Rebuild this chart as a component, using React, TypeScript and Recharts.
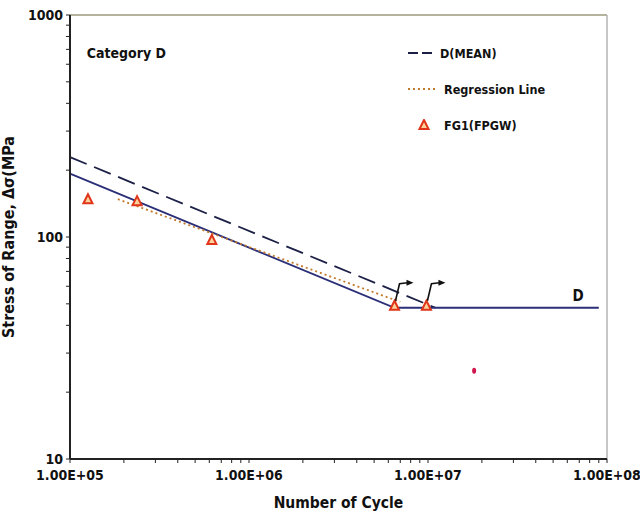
import React from 'react';
import {
  ComposedChart,
  Line,
  Scatter,
  XAxis,
  YAxis,
  ReferenceLine,
  ReferenceDot,
} from 'recharts';

const FONT = "'Liberation Sans Narrow', 'DejaVu Sans Condensed', 'Liberation Sans', Arial, sans-serif";
const NAVY = '#2b2f78';
const DARK = '#1c2046';
const ORANGE = '#c27a2c';
const RED = '#e0351a';

// Category D design curve (cycles, stress MPa)
const dCycles = [1e5, 6.5e6, 9e7];
const dStress = [193, 48, 48];

// D(MEAN) curve
const meanCycles = [1e5, 1.1e7];
const meanStress = [229, 48];

// regression line
const regCycles = [1.85e5, 7e6];
const regStress = [148, 51];

// FG1(FPGW) test results
const testCycles = [1.26e5, 2.37e5, 6.2e5, 6.5e6, 9.8e6];
const testStress = [148, 145, 97, 49, 49];
const testRunout = [false, false, false, true, true];

// stray mark in the scan
const strayCycles = [1.81e7];
const strayStress = [25];

const xMajor = [1e5, 1e6, 1e7, 1e8];
const yMajor = [10, 100, 1000];
const xTicks = [1e5, 2e5, 3e5, 4e5, 5e5, 6e5, 7e5, 8e5, 9e5, 1e6, 2e6, 3e6, 4e6, 5e6, 6e6, 7e6, 8e6, 9e6, 1e7, 2e7, 3e7, 4e7, 5e7, 6e7, 7e7, 8e7, 9e7, 1e8];
const yTicks = [10, 20, 30, 40, 50, 60, 70, 80, 90, 100, 200, 300, 400, 500, 600, 700, 800, 900, 1000];

const toRows = (ns: number[], ss: number[]) => ns.map((n, i) => ({ n, s: ss[i] }));
const dData = toRows(dCycles, dStress);
const meanData = toRows(meanCycles, meanStress);
const regData = toRows(regCycles, regStress);
const testData = testCycles.map((n, i) => ({ n, s: testStress[i], runout: testRunout[i] }));
const strayData = toRows(strayCycles, strayStress);

const fmtX = (v: number) => (xMajor.includes(v) ? v.toExponential(2).toUpperCase().replace('E+', 'E+0') : '');
const fmtY = (v: number) => (yMajor.includes(v) ? String(v) : '');

function Tri({ cx, cy, payload }: any) {
  if (cx == null || cy == null) return null;
  return (
    <g>
      <polygon
        points={`${cx},${cy - 5} ${cx - 4.5},${cy + 4} ${cx + 4.5},${cy + 4}`}
        fill="#fbd29a"
        stroke={RED}
        strokeWidth={2}
      />
      {payload && payload.runout ? (
        <g>
          <polyline points={`${cx + 1},${cy - 5} ${cx + 5},${cy - 22} ${cx + 13},${cy - 23}`} fill="none" stroke="#111" strokeWidth={1.6} />
          <polygon points={`${cx + 12},${cy - 26} ${cx + 19},${cy - 23} ${cx + 12},${cy - 20}`} fill="#111" />
        </g>
      ) : null}
    </g>
  );
}

function Stray({ cx, cy }: any) {
  if (cx == null || cy == null) return null;
  return <ellipse cx={cx} cy={cy} rx={2} ry={3} fill="#d0164c" />;
}

function LegendBox() {
  const row: React.CSSProperties = { display: 'flex', alignItems: 'center', height: 36 };
  const txt: React.CSSProperties = { fontFamily: FONT, fontWeight: 700, fontSize: 12.5, color: '#111' };
  return (
    <div style={{ position: 'absolute', left: 406, top: 35 }}>
      <div style={row}>
        <svg width={34} height={10}>
          <line x1={2} y1={5} x2={30} y2={5} stroke={DARK} strokeWidth={1.8} strokeDasharray="10 4" />
        </svg>
        <span style={txt}>D(MEAN)</span>
      </div>
      <div style={row}>
        <svg width={38} height={10}>
          <line x1={2} y1={5} x2={32} y2={5} stroke={ORANGE} strokeWidth={1.8} strokeDasharray="2 3" />
        </svg>
        <span style={txt}>Regression Line</span>
      </div>
      <div style={row}>
        <svg width={38} height={12}>
          <polygon points="18,1 13.5,10 22.5,10" fill="#fbd29a" stroke={RED} strokeWidth={2} />
        </svg>
        <span style={txt}>FG1(FPGW)</span>
      </div>
    </div>
  );
}

const tickStyle = { fontFamily: FONT, fontWeight: 700, fontSize: 14, fill: '#111' };

export default function App() {
  return (
    <div style={{ position: 'absolute', left: 0, top: 0, width: 640, height: 512, background: '#fff' }}>
      <ComposedChart width={640} height={512} margin={{ top: 15, right: 33, bottom: 0, left: 0 }}>
        <XAxis
          dataKey="n"
          type="number"
          scale="log"
          domain={[1e5, 1e8]}
          ticks={xTicks}
          tickFormatter={fmtX}
          interval={0}
          height={53}
          tickSize={4}
          tickMargin={7}
          axisLine={{ stroke: '#222', strokeWidth: 2 }}
          tickLine={{ stroke: '#222' }}
          tick={tickStyle}
          label={{ value: 'Number of Cycle', position: 'insideBottom', offset: 4, style: { fontFamily: FONT, fontWeight: 700, fontSize: 15.5, fill: '#111' } }}
        />
        <YAxis
          dataKey="s"
          type="number"
          scale="log"
          domain={[10, 1000]}
          ticks={yTicks}
          tickFormatter={fmtY}
          interval={0}
          width={70}
          tickSize={4}
          tickMargin={3}
          axisLine={{ stroke: '#222', strokeWidth: 2 }}
          tickLine={{ stroke: '#222' }}
          tick={tickStyle}
          label={{ value: 'Stress of Range, \u0394\u03c3(MPa', angle: -90, position: 'insideLeft', offset: 8, style: { fontFamily: FONT, fontWeight: 700, fontSize: 16, fill: '#111', textAnchor: 'middle' } }}
        />
        <ReferenceLine y={1000} stroke="#9a9a7e" strokeWidth={1.5} />
        <ReferenceLine x={1e8} stroke="#b5b5b5" strokeWidth={1.5} />
        <Line data={meanData} dataKey="s" stroke={DARK} strokeWidth={1.8} strokeDasharray="18 8" dot={false} isAnimationActive={false} name="D(MEAN)" />
        <Line data={dData} dataKey="s" stroke={NAVY} strokeWidth={1.8} dot={false} isAnimationActive={false} name="D" />
        <Line data={regData} dataKey="s" stroke={ORANGE} strokeWidth={1.8} strokeDasharray="2 3" dot={false} isAnimationActive={false} name="Regression Line" />
        <Scatter data={testData} dataKey="s" shape={<Tri />} isAnimationActive={false} name="FG1(FPGW)" />
        <Scatter data={strayData} dataKey="s" shape={<Stray />} isAnimationActive={false} />
        <ReferenceDot x={6.9e7} y={48} r={0} label={{ value: 'D', position: 'top', offset: 7, style: { fontFamily: FONT, fontWeight: 700, fontSize: 15, fill: '#111' } }} />
        <ReferenceDot x={1.24e5} y={674} r={0} label={{ value: 'Category D', position: 'right', offset: 0, style: { fontFamily: FONT, fontWeight: 700, fontSize: 14, fill: '#111' } }} />
      </ComposedChart>
      <LegendBox />
    </div>
  );
}
